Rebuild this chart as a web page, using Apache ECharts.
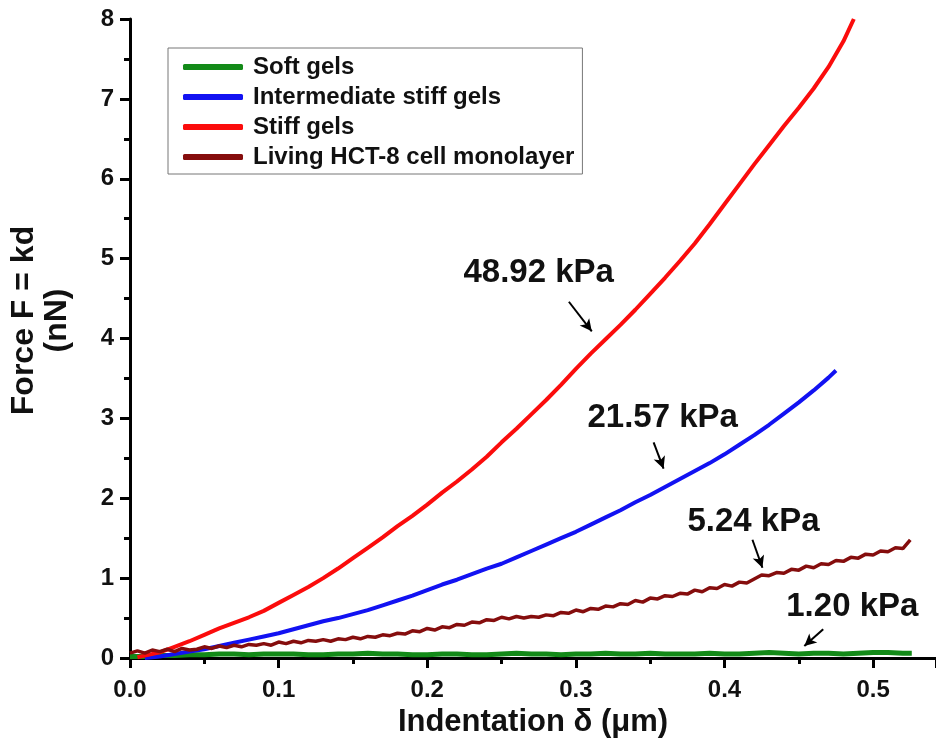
<!DOCTYPE html>
<html><head><meta charset="utf-8">
<script src="https://cdn.jsdelivr.net/npm/echarts@6/dist/echarts.min.js"></script>
<style>html,body{margin:0;padding:0;background:#fff}#c{width:936px;height:745px}</style>
</head><body><div id="c"></div>
<script>
const seriesNames = ['Soft gels', 'Intermediate stiff gels', 'Stiff gels', 'Living HCT-8 cell monolayer'];
const xTicks = [0.0, 0.1, 0.2, 0.3, 0.4, 0.5];
const yTicks = [0, 1, 2, 3, 4, 5, 6, 7, 8];

const softX = [0.00,0.01,0.02,0.03,0.04,0.05,0.06,0.07,0.08,0.09,0.10,0.11,0.12,0.13,0.14,0.15,0.16,0.17,0.18,0.19,0.20,0.21,0.22,0.23,0.24,0.25,0.26,0.27,0.28,0.29,0.30,0.31,0.32,0.33,0.34,0.35,0.36,0.37,0.38,0.39,0.40,0.41,0.42,0.43,0.44,0.45,0.46,0.47,0.48,0.49,0.50,0.51,0.52,0.526];
const softF = [0.02,0.02,0.03,0.03,0.04,0.04,0.05,0.05,0.04,0.05,0.05,0.05,0.04,0.04,0.05,0.05,0.06,0.05,0.05,0.04,0.04,0.05,0.05,0.04,0.04,0.05,0.06,0.05,0.05,0.04,0.05,0.05,0.06,0.05,0.05,0.06,0.05,0.05,0.05,0.06,0.05,0.05,0.06,0.07,0.06,0.05,0.06,0.06,0.05,0.06,0.07,0.07,0.06,0.06];

const interX = [0.01,0.02,0.03,0.04,0.05,0.06,0.07,0.08,0.09,0.10,0.11,0.12,0.13,0.14,0.15,0.16,0.17,0.18,0.19,0.20,0.21,0.22,0.23,0.24,0.25,0.26,0.27,0.28,0.29,0.30,0.31,0.32,0.33,0.34,0.35,0.36,0.37,0.38,0.39,0.40,0.41,0.42,0.43,0.44,0.45,0.46,0.47,0.475];
const interF = [0.00,0.02,0.05,0.08,0.11,0.15,0.19,0.23,0.27,0.31,0.36,0.41,0.46,0.50,0.55,0.60,0.66,0.72,0.78,0.85,0.92,0.98,1.05,1.12,1.18,1.26,1.34,1.42,1.50,1.58,1.67,1.76,1.85,1.95,2.04,2.14,2.24,2.34,2.44,2.55,2.67,2.79,2.92,3.06,3.20,3.35,3.51,3.60];

const stiffX = [0.005,0.01,0.02,0.03,0.04,0.05,0.06,0.07,0.08,0.09,0.10,0.11,0.12,0.13,0.14,0.15,0.16,0.17,0.18,0.19,0.20,0.21,0.22,0.23,0.24,0.25,0.26,0.27,0.28,0.29,0.30,0.31,0.32,0.33,0.34,0.35,0.36,0.37,0.38,0.39,0.40,0.41,0.42,0.43,0.44,0.45,0.46,0.47,0.48,0.487];
const stiffF = [0.01,0.03,0.07,0.14,0.21,0.29,0.37,0.44,0.51,0.59,0.69,0.79,0.89,1.00,1.12,1.25,1.38,1.51,1.65,1.78,1.92,2.07,2.21,2.36,2.52,2.70,2.87,3.05,3.23,3.42,3.62,3.81,3.99,4.17,4.36,4.56,4.76,4.97,5.19,5.43,5.68,5.93,6.18,6.42,6.66,6.89,7.13,7.40,7.72,8.00];

const cellX = [0.000,0.005,0.010,0.015,0.020,0.025,0.030,0.035,0.040,0.045,0.050,0.055,0.060,0.065,0.070,0.075,0.080,0.085,0.090,0.095,0.100,0.105,0.110,0.115,0.120,0.125,0.130,0.135,0.140,0.145,0.150,0.155,0.160,0.165,0.170,0.175,0.180,0.185,0.190,0.195,0.200,0.205,0.210,0.215,0.220,0.225,0.230,0.235,0.240,0.245,0.250,0.255,0.260,0.265,0.270,0.275,0.280,0.285,0.290,0.295,0.300,0.305,0.310,0.315,0.320,0.325,0.330,0.335,0.340,0.345,0.350,0.355,0.360,0.365,0.370,0.375,0.380,0.385,0.390,0.395,0.400,0.405,0.410,0.415,0.420,0.425,0.430,0.435,0.440,0.445,0.450,0.455,0.460,0.465,0.470,0.475,0.480,0.485,0.490,0.495,0.500,0.505,0.510,0.515,0.520,0.525];
const cellF = [0.06,0.09,0.06,0.10,0.08,0.11,0.08,0.12,0.10,0.11,0.14,0.12,0.15,0.13,0.16,0.14,0.17,0.16,0.18,0.16,0.20,0.18,0.21,0.19,0.22,0.21,0.23,0.21,0.24,0.23,0.26,0.24,0.27,0.26,0.29,0.28,0.31,0.30,0.34,0.33,0.37,0.35,0.39,0.38,0.42,0.41,0.45,0.44,0.48,0.47,0.51,0.49,0.52,0.50,0.52,0.51,0.54,0.53,0.57,0.56,0.60,0.58,0.62,0.61,0.65,0.64,0.68,0.67,0.72,0.70,0.75,0.74,0.78,0.77,0.81,0.80,0.85,0.83,0.88,0.87,0.92,0.90,0.95,0.94,0.99,1.04,1.03,1.07,1.06,1.11,1.10,1.15,1.13,1.18,1.17,1.22,1.21,1.26,1.25,1.30,1.29,1.34,1.33,1.38,1.37,1.48];

const annoText = ['48.92 kPa', '21.57 kPa', '5.24 kPa', '1.20 kPa'];
const annoTextAt = [[0.275, 4.82], [0.3584, 3.00], [0.4195, 1.70], [0.486, 0.64]];
const arrowFrom = [[0.2953, 4.46], [0.3523, 2.70], [0.4188, 1.48], [0.4664, 0.36]];
const arrowTo = [[0.3107, 4.09], [0.3590, 2.37], [0.4255, 1.13], [0.4537, 0.15]];

const FONT = 'Liberation Sans';
const colors = ['#138a18', '#1212f2', '#fb0c0c', '#850d0d'];
const widths = [5, 4, 4, 3.5];

function pairs(xs, ys) { return xs.map((x, i) => [x, ys[i]]); }
const dataSets = [pairs(softX, softF), pairs(interX, interF), pairs(stiffX, stiffF), pairs(cellX, cellF)];

const series = seriesNames.map((name, i) => ({
  name, type: 'line', data: dataSets[i], symbol: 'none', smooth: false,
  lineStyle: { color: colors[i], width: widths[i] }, itemStyle: { color: colors[i] },
  z: 2 + i, animation: false
}));
series.push({
  type: 'line', data: [], silent: true, animation: false,
  markLine: {
    silent: true, animation: false, symbol: ['none', 'arrow'], symbolSize: [9, 12],
    lineStyle: { color: '#000', width: 2, type: 'solid' }, label: { show: false },
    data: arrowFrom.map((f, i) => [{ coord: f }, { coord: arrowTo[i] }])
  },
  markPoint: {
    silent: true, animation: false, symbol: 'rect', symbolSize: 1,
    itemStyle: { color: 'rgba(0,0,0,0)' },
    label: { show: true, position: 'inside', color: '#111', fontFamily: FONT, fontWeight: 'bold', fontSize: 33 },
    data: annoText.map((t, i) => ({ coord: annoTextAt[i], value: t, label: { formatter: t } }))
  }
});

const chart = echarts.init(document.getElementById('c'), null, { renderer: 'canvas' });
chart.setOption({
  backgroundColor: '#fff',
  animation: false,
  grid: { left: 128, top: 19, right: 0, bottom: 87 },
  legend: {
    data: seriesNames, orient: 'vertical', left: 168, top: 48,
    padding: [7, 8, 5, 15], itemGap: 6, itemWidth: 60, itemHeight: 6, icon: 'roundRect',
    borderColor: '#777', borderWidth: 1, backgroundColor: '#fff',
    textStyle: { fontFamily: FONT, fontWeight: 'bold', fontSize: 24, color: '#111', padding: [0, 0, 0, 5] }
  },
  xAxis: [{
    type: 'value', min: 0, max: 0.5423, interval: 0.1,
    name: 'Indentation δ (μm)', nameLocation: 'middle', nameGap: 47,
    nameTextStyle: { fontFamily: FONT, fontWeight: 'bold', fontSize: 31, color: '#111' },
    axisLine: { show: true, onZero: false, lineStyle: { color: '#000', width: 3 } },
    axisTick: { show: true, inside: false, length: 10, lineStyle: { color: '#000', width: 3 } },
    minorTick: { show: true, splitNumber: 2, length: 6, lineStyle: { color: '#000', width: 3 } },
    axisLabel: { showMaxLabel: false, margin: 20, fontFamily: FONT, fontWeight: 'bold', fontSize: 24, color: '#111',
      formatter: v => xTicks.some(t => Math.abs(t - v) < 1e-6) ? v.toFixed(1) : '' },
    splitLine: { show: false }
  }, {
    type: 'value', position: 'top', min: 0, max: 0.5423,
    axisLine: { show: true, lineStyle: { color: '#000', width: 3 } },
    axisTick: { show: false }, axisLabel: { show: false }, splitLine: { show: false }
  }],
  yAxis: {
    type: 'value', min: 0, max: 8, interval: 1,
    name: 'Force F = kd\n(nN)', nameLocation: 'middle', nameGap: 56, nameRotate: 90,
    nameTextStyle: { fontFamily: FONT, fontWeight: 'bold', fontSize: 32, color: '#111', lineHeight: 33, padding: [0, 0, 0, 36] },
    axisLine: { show: true, onZero: false, lineStyle: { color: '#000', width: 3 } },
    axisTick: { show: true, inside: false, length: 10, lineStyle: { color: '#000', width: 3 } },
    minorTick: { show: true, splitNumber: 2, length: 6, lineStyle: { color: '#000', width: 3 } },
    axisLabel: { margin: 16, fontFamily: FONT, fontWeight: 'bold', fontSize: 24, color: '#111',
      formatter: v => yTicks.includes(v) ? String(v) : '' },
    splitLine: { show: false }
  },
  series
});
</script></body></html>
